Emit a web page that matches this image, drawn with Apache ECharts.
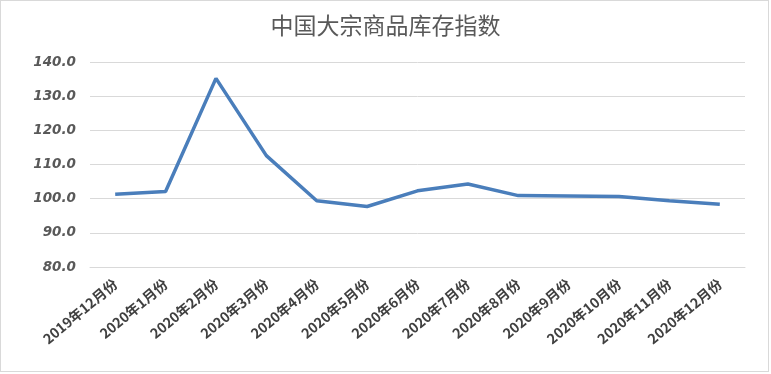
<!DOCTYPE html>
<html>
<head>
<meta charset="utf-8">
<script src="https://cdn.jsdelivr.net/npm/echarts@6/dist/echarts.min.js"></script>
<style>
html,body{margin:0;padding:0;background:#fff;}
#frame{position:absolute;left:0;top:0;width:767px;height:370px;border:1px solid #d9d9d9;}
#chart{position:absolute;left:0;top:0;width:771px;height:374px;}
</style>
</head>
<body>
<div id="frame"></div>
<div id="chart"></div>
<script>
var title = '中国大宗商品库存指数';
var categories = ['2019年12月份','2020年1月份','2020年2月份','2020年3月份','2020年4月份','2020年5月份','2020年6月份','2020年7月份','2020年8月份','2020年9月份','2020年10月份','2020年11月份','2020年12月份'];
var values = [101.3, 102.1, 135.2, 112.6, 99.4, 97.7, 102.3, 104.3, 100.9, 100.8, 100.6, 99.4, 98.4];
var yMin = 80, yMax = 140, yStep = 10;

var chart = echarts.init(document.getElementById('chart'), null, {renderer:'canvas'});
chart.setOption({
  backgroundColor: 'transparent',
  animation: false,
  title: {
    text: title,
    left: 'center',
    top: 9,
    textStyle: {fontFamily:'"Noto Sans CJK SC"', fontSize: 23, fontWeight: 'normal', color: '#595959'}
  },
  grid: {left: 90, right: 26, top: 62, bottom: 107, containLabel: false},
  xAxis: {
    type: 'category',
    data: categories,
    boundaryGap: true,
    axisLine: {show: true, lineStyle: {color: '#d9d9d9'}},
    axisTick: {show: false},
    axisLabel: {
      rotate: 40,
      margin: 15,
      interval: 0,
      fontFamily: '"Noto Sans CJK SC"',
      fontSize: 14,
      fontWeight: 'bold',
      color: '#404040'
    }
  },
  yAxis: {
    type: 'value',
    min: yMin, max: yMax, interval: yStep,
    axisLine: {show: false},
    axisTick: {show: false},
    splitLine: {lineStyle: {color: '#d9d9d9', width: 1}},
    axisLabel: {
      margin: 14,
      fontFamily: '"DejaVu Sans"',
      fontSize: 13.5,
      fontWeight: 'bold',
      fontStyle: 'italic',
      color: '#595959',
      formatter: function (v) { return v.toFixed(1); }
    }
  },
  series: [{
    type: 'line',
    data: values,
    showSymbol: false,
    symbol: 'none',
    lineStyle: {color: '#4a7ebb', width: 3.5},
    itemStyle: {color: '#4a7ebb'}
  }]
});
</script>
</body>
</html>
